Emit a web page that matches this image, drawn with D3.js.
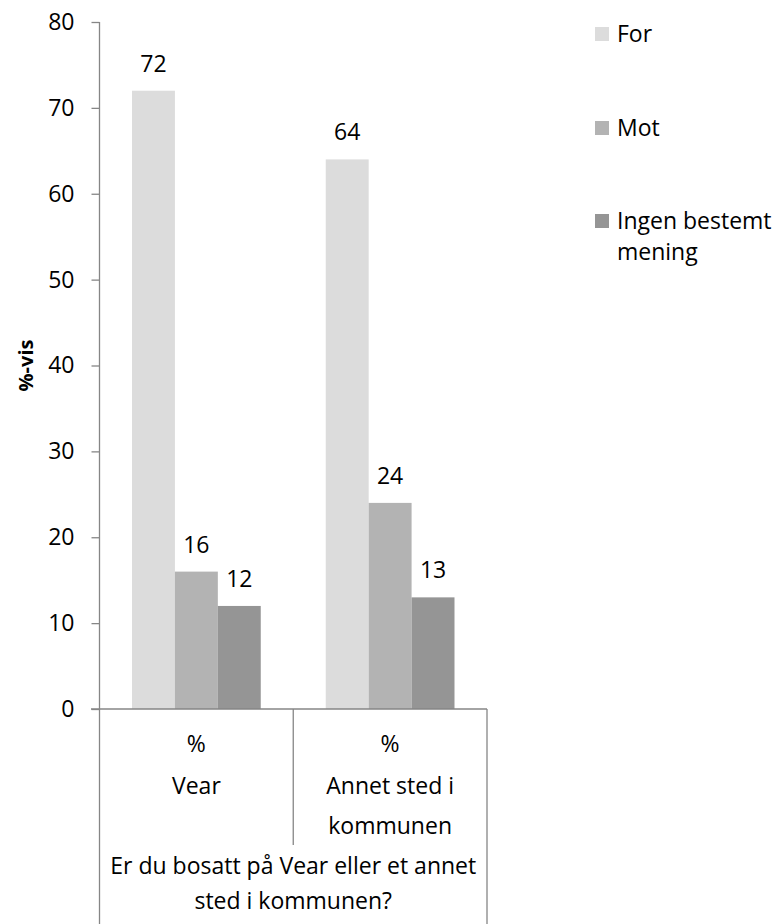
<!DOCTYPE html>
<html><head><meta charset="utf-8">
<script src="https://cdn.jsdelivr.net/npm/d3@7"></script>
<style>body{margin:0;background:#fff}text{font-family:"Open Sans",sans-serif;fill:#000}</style>
</head><body>
<script>
const categories = ["Vear", "Annet sted i kommunen"];
const categoryLines = [["Vear"], ["Annet sted i", "kommunen"]];
const subLabel = ["%", "%"];
const groupTitleLines = ["Er du bosatt på Vear eller et annet", "sted i kommunen?"];
const series = ["For", "Mot", "Ingen bestemt mening"];
const seriesLegendLines = [["For"], ["Mot"], ["Ingen bestemt", "mening"]];
const values = { "For": [72, 64], "Mot": [16, 24], "Ingen bestemt mening": [12, 13] };
const yTicks = [0, 10, 20, 30, 40, 50, 60, 70, 80];
const yTitle = "%-vis";
const colors = ["#dcdcdc", "#b3b3b3", "#959595"];

const W = 777, H = 924;
const svg = d3.select("body").append("svg").attr("width", W).attr("height", H);
const axisColor = "#868686";
const fs = 23;

const y = d3.scaleLinear().domain([0, 80]).range([709, 22]);
const x0 = d3.scaleBand().domain(categories).range([99.5, 487]).padding(0);
const x1 = d3.scaleBand().domain(series).range([32.5, x0.bandwidth() - 32.5]).padding(0);
const color = d3.scaleOrdinal().domain(series).range(colors);

// bars
const g = svg.append("g");
categories.forEach((c, ci) => {
  series.forEach(s => {
    const v = values[s][ci];
    g.append("rect")
      .attr("x", x0(c) + x1(s)).attr("width", x1.bandwidth())
      .attr("y", y(v)).attr("height", y(0) - y(v))
      .attr("fill", color(s));
    g.append("text")
      .attr("x", x0(c) + x1(s) + x1.bandwidth() / 2)
      .attr("y", y(v) - 19)
      .attr("text-anchor", "middle").attr("font-size", fs)
      .text(v);
  });
});

// y axis
const ya = svg.append("g").attr("transform", "translate(99.5,0)")
  .call(d3.axisLeft(y).tickValues(yTicks).tickSize(8).tickPadding(17));
ya.selectAll("path,line").attr("stroke", axisColor).attr("stroke-width", 1.3);
ya.select(".domain").attr("d", `M0,${y(80)}V${y(0)}`);
ya.selectAll("text").attr("font-size", fs).attr("font-family", '"Open Sans",sans-serif').attr("fill", "#000");

svg.append("text")
  .attr("transform", `translate(33,${(y(0) + y(80)) / 2}) rotate(-90)`)
  .attr("text-anchor", "middle").attr("font-size", 20).attr("font-weight", "bold")
  .text(yTitle);

// category axis
const ax = svg.append("g").attr("stroke", axisColor).attr("stroke-width", 1.3);
ax.append("line").attr("x1", 91).attr("x2", x0.range()[1]).attr("y1", y(0)).attr("y2", y(0));
ax.append("line").attr("x1", x0.range()[0]).attr("x2", x0.range()[0]).attr("y1", y(0)).attr("y2", H);
ax.append("line").attr("x1", x0.range()[1]).attr("x2", x0.range()[1]).attr("y1", y(0)).attr("y2", H);
categories.slice(1).forEach(c => {
  ax.append("line").attr("x1", x0(c)).attr("x2", x0(c)).attr("y1", y(0)).attr("y2", 845);
});

function multiline(sel, lines, x, y0, dy) {
  const t = sel.append("text").attr("text-anchor", "middle").attr("font-size", fs);
  lines.forEach((l, li) => t.append("tspan").attr("x", x).attr("y", y0 + li * dy).text(l));
  return t;
}

categories.forEach((c, ci) => {
  const cx = x0(c) + x0.bandwidth() / 2;
  svg.append("text").attr("x", cx).attr("y", 752).attr("text-anchor", "middle").attr("font-size", fs).text(subLabel[ci]);
  multiline(svg, categoryLines[ci], cx, 794, 40);
});
const gx = (x0.range()[0] + x0.range()[1]) / 2;
multiline(svg, groupTitleLines, gx, 874, 35);

// legend
const legendY = [27, 121, 214];
series.forEach((s, i) => {
  svg.append("rect").attr("x", 595).attr("y", legendY[i]).attr("width", 14).attr("height", 14).attr("fill", color(s));
  multiline(svg, seriesLegendLines[i], 617, legendY[i] + 15, 31).attr("text-anchor", "start");
});
</script>
</body></html>
